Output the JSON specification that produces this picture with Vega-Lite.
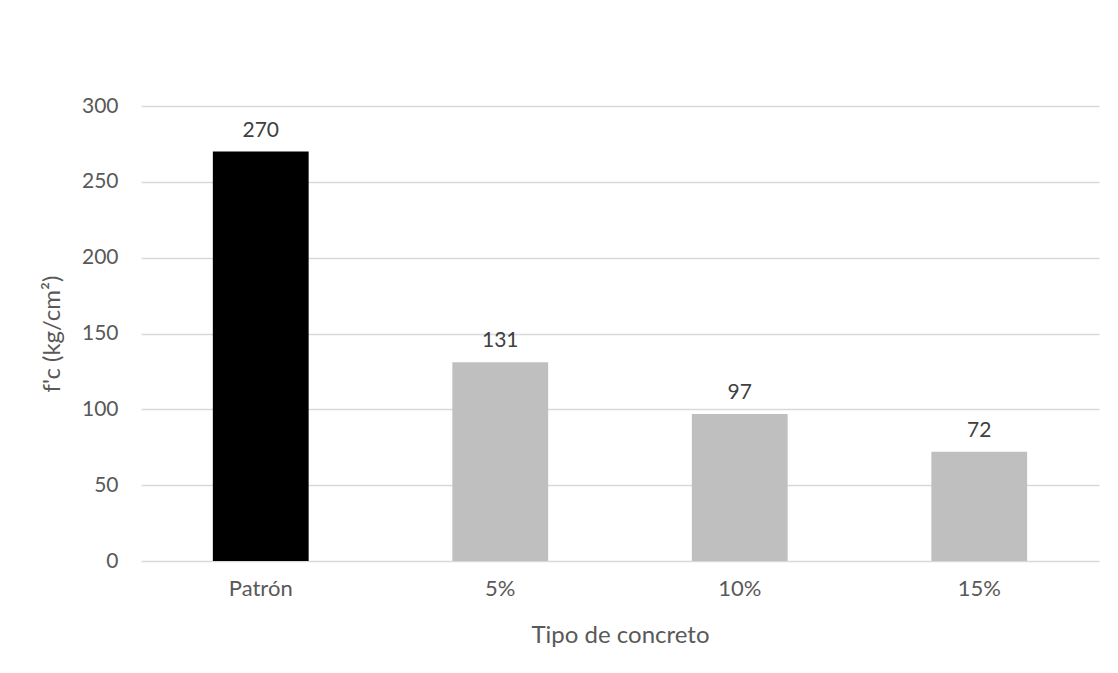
{
  "$schema": "https://vega.github.io/schema/vega-lite/v6.json",
  "width": 958,
  "height": 455,
  "autosize": {"type": "none"},
  "padding": {"left": 141, "top": 106, "right": 19, "bottom": 112},
  "background": "white",
  "config": {
    "font": "Lato",
    "view": {"stroke": null},
    "axis": {"labelColor": "#595959", "titleColor": "#595959", "labelFont": "Lato", "titleFont": "Lato", "titleFontWeight": "normal"}
  },
  "data": {
    "values": [
      {"tipo": "Patrón", "fc": 270},
      {"tipo": "5%", "fc": 131},
      {"tipo": "10%", "fc": 97},
      {"tipo": "15%", "fc": 72}
    ]
  },
  "encoding": {
    "x": {
      "field": "tipo",
      "type": "nominal",
      "sort": null,
      "scale": {"paddingInner": 0.6, "paddingOuter": 0.3},
      "axis": {
        "title": "Tipo de concreto",
        "labelAngle": 0,
        "labelFontSize": 22,
        "labelPadding": 17,
        "ticks": false,
        "domain": false,
        "titleFontSize": 24,
        "titlePadding": 24
      }
    },
    "y": {
      "field": "fc",
      "type": "quantitative",
      "scale": {"domain": [0, 300]},
      "axis": {
        "title": "f'c (kg/cm²)",
        "values": [0, 50, 100, 150, 200, 250, 300],
        "labelFontSize": 21,
        "labelPadding": 23,
        "ticks": false,
        "domain": false,
        "gridColor": "#d9d9d9",
        "gridWidth": 1.5,
        "titleFontSize": 24,
        "titlePadding": 17
      }
    }
  },
  "layer": [
    {
      "mark": {"type": "bar"},
      "encoding": {
        "color": {
          "field": "tipo",
          "type": "nominal",
          "scale": {"domain": ["Patrón", "5%", "10%", "15%"], "range": ["#000000", "#bfbfbf", "#bfbfbf", "#bfbfbf"]},
          "legend": null
        }
      }
    },
    {
      "mark": {"type": "text", "baseline": "alphabetic", "dy": -15, "fontSize": 21, "color": "#404040", "font": "Lato"},
      "encoding": {"text": {"field": "fc", "type": "quantitative"}}
    }
  ]
}
